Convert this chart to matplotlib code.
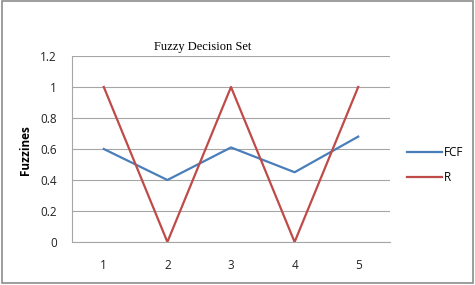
import matplotlib
matplotlib.use("Agg")
import matplotlib.pyplot as plt
from matplotlib.patches import Rectangle

# Data
categories = [1, 2, 3, 4, 5]
fcf = [0.6, 0.4, 0.61, 0.45, 0.68]
r_vals = [1, 0, 1, 0, 1]
y_ticks = [0, 0.2, 0.4, 0.6, 0.8, 1, 1.2]
y_tick_labels = ["0", "0.2", "0.4", "0.6", "0.8", "1", "1.2"]

fig = plt.figure(figsize=(4.75, 2.85), dpi=100)
ax = fig.add_axes([72 / 475, 1 - 242 / 285, 318 / 475, 186 / 285])

ax.plot(categories, fcf, color="#4a7ebb", lw=1.6, label="FCF")
ax.plot(categories, r_vals, color="#be4b48", lw=1.6, label="R")

ax.set_xlim(0.5, 5.5)
ax.set_ylim(0, 1.2)
ax.set_xticks(categories)
ax.set_yticks(y_ticks)
ax.set_yticklabels(y_tick_labels)
ax.tick_params(length=0, labelsize=8.5, colors="#222222", pad=11)
ax.tick_params(axis="x", pad=12)
for lab in ax.get_xticklabels() + ax.get_yticklabels():
    lab.set_family("Open Sans")

ax.grid(axis="y", color="#a6a6a6", lw=0.8)
ax.set_axisbelow(True)
for s in ["top", "right"]:
    ax.spines[s].set_visible(False)
ax.spines["left"].set_color("#a6a6a6")
ax.spines["bottom"].set_color("#a6a6a6")
ax.spines["left"].set_linewidth(0.8)
ax.spines["bottom"].set_linewidth(0.8)

fig.text(26 / 475, 1 - 150 / 285, "Fuzzines", rotation=90, ha="center", va="center",
         fontsize=8.5, fontweight="bold", family="Open Sans")
fig.text(203 / 475, 1 - 47 / 285, "Fuzzy Decision Set", ha="center", va="center",
         fontsize=9, family="Liberation Serif")

ax.legend(loc="center left", bbox_to_anchor=(1.02, 0.415), frameon=False,
          prop={"family": "Open Sans", "size": 8.5}, handlelength=3.0,
          handletextpad=0.1, labelspacing=1.0)

fig.patches.append(Rectangle((0.004, 0.006), 0.992, 0.99, transform=fig.transFigure,
                             fill=False, edgecolor="#8c8c8c", lw=1.2))

fig.savefig("out.png", dpi=100)
